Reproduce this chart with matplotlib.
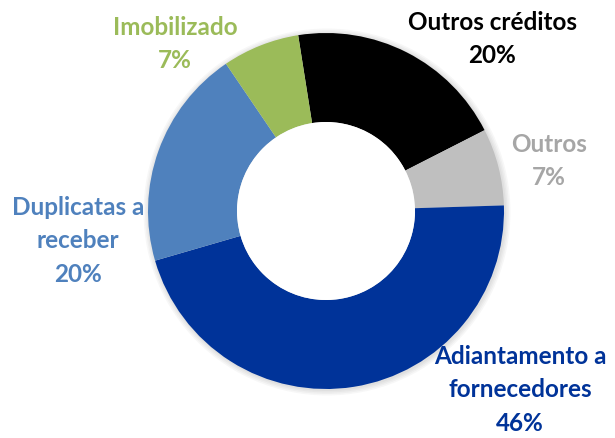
import matplotlib
matplotlib.use("Agg")
import matplotlib.pyplot as plt
from matplotlib.patches import Circle

categories = ["Outros créditos", "Outros", "Adiantamento a\nfornecedores", "Duplicatas a\nreceber", "Imobilizado"]
values = [20, 7, 46, 20, 7]
colors = ["#000000", "#BFBFBF", "#003399", "#4F81BD", "#9BBB59"]
text_colors = ["#000000", "#A6A6A6", "#003399", "#4F81BD", "#9BBB59"]
# label centers in pixel coords (x, y from top)
label_pos = [(492, 39), (549, 161), (520, 390), (78, 241), (175, 44)]

W, H = 615, 439
fig = plt.figure(figsize=(W / 100, H / 100), dpi=100)
ax = fig.add_axes([0, 0, 1, 1])

cx, cy, R = 326, H - 212, 178

# faint shadow
for i in range(4):
    ax.add_patch(Circle((cx + 1, cy - 1), R + 1 + i * 1.5, color="black", alpha=0.03, lw=0, zorder=0))

ax.pie(values, colors=colors, startangle=99, counterclock=False,
       radius=R, center=(cx, cy), frame=True,
       wedgeprops=dict(width=R * 0.5, edgecolor="none"))
ax.add_patch(Circle((cx, cy), R * 0.5, color="white", lw=0, zorder=5))
ax.set_xlim(0, W)
ax.set_ylim(0, H)
ax.set_aspect("equal")
ax.axis("off")

for cat, v, col, (x, y) in zip(categories, values, text_colors, label_pos):
    ax.text(x, H - y, f"{cat}\n{v}%", ha="center", va="center", color=col,
            fontsize=17.5, fontweight="bold", family="Lato", linespacing=1.55)

fig.savefig("out.png", dpi=100)
